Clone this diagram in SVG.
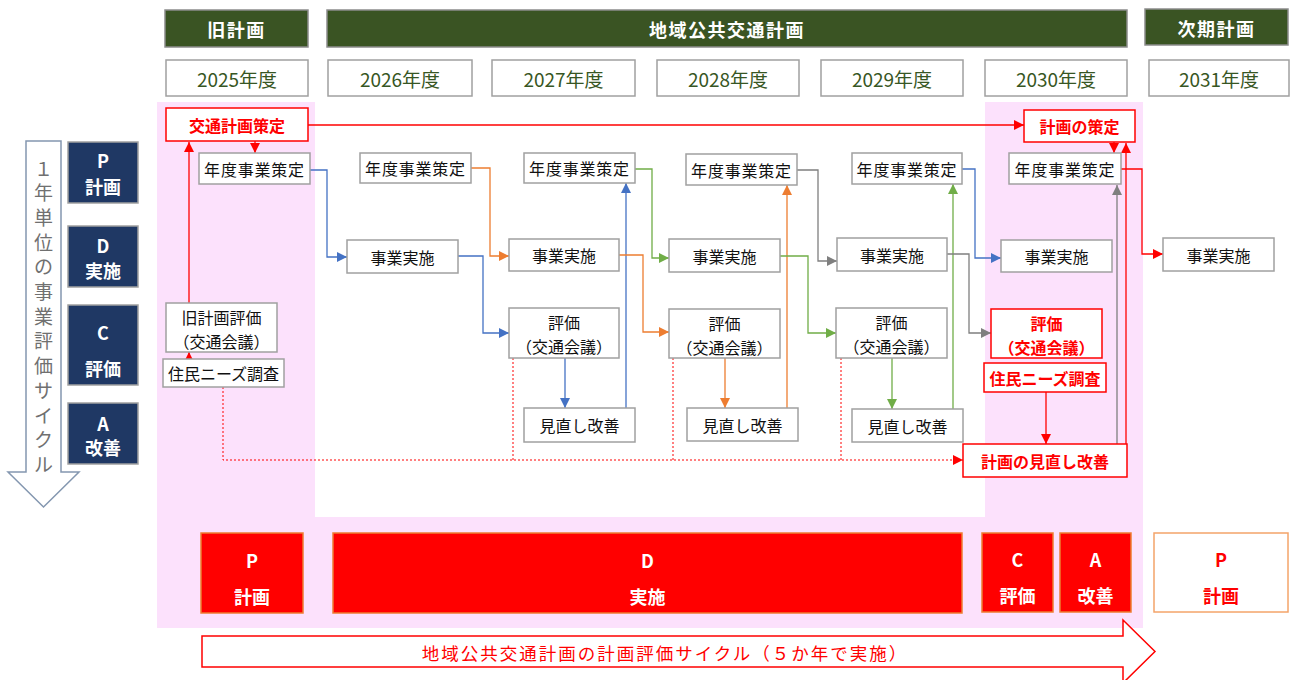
<svg xmlns="http://www.w3.org/2000/svg" width="1292" height="680" viewBox="0 0 1292 680">
<style>
text{font-family:"Noto Sans CJK JP","Noto Sans",sans-serif;text-anchor:middle;dominant-baseline:central}
.hdr rect{fill:#3A5423;stroke:#8C8C8C;stroke-width:1.5}
.hdr text{fill:#fff;font-weight:bold;font-size:18px;letter-spacing:1.5px}
.yr rect{fill:#fff;stroke:#A0A0A0;stroke-width:1.5}
.yr text{fill:#375623;font-size:19px}
.pd rect{fill:#1F3864;stroke:#A0A0A0;stroke-width:1.5}
.pd text{fill:#fff;font-weight:bold;font-size:18px}
.n rect{fill:#fff;stroke:#A0A0A0;stroke-width:1.5}
.n text{fill:#111;font-size:16px}
.r rect{fill:#fff;stroke:#FF0000;stroke-width:1.5}
.r text{fill:#FF0000;font-weight:bold;font-size:16px}
.s{font-size:14px;letter-spacing:0.8px}
.sm{font-size:11px}
.t13{font-size:13px}
.bt rect{fill:#FF0000;stroke:#ED7D31;stroke-width:1.5}
.bt text{fill:#fff;font-weight:bold;font-size:18px}
.c{fill:none;stroke-width:1.3}
.blue{stroke:#4472C4}.orange{stroke:#ED7D31}.green{stroke:#70AD47}.gray{stroke:#7F7F7F}.red{stroke:#FF0000}
.dot{stroke:#FF0000;stroke-width:1;stroke-dasharray:2 2;fill:none}
</style>
<defs>
<marker id="ab" markerUnits="userSpaceOnUse" markerWidth="10" markerHeight="10" refX="10" refY="5" orient="auto"><path d="M0,0L10,5L0,10z" fill="#4472C4"/></marker>
<marker id="ao" markerUnits="userSpaceOnUse" markerWidth="10" markerHeight="10" refX="10" refY="5" orient="auto"><path d="M0,0L10,5L0,10z" fill="#ED7D31"/></marker>
<marker id="ag" markerUnits="userSpaceOnUse" markerWidth="10" markerHeight="10" refX="10" refY="5" orient="auto"><path d="M0,0L10,5L0,10z" fill="#70AD47"/></marker>
<marker id="ay" markerUnits="userSpaceOnUse" markerWidth="10" markerHeight="10" refX="10" refY="5" orient="auto"><path d="M0,0L10,5L0,10z" fill="#7F7F7F"/></marker>
<marker id="ar" markerUnits="userSpaceOnUse" markerWidth="10" markerHeight="10" refX="10" refY="5" orient="auto"><path d="M0,0L10,5L0,10z" fill="#FF0000"/></marker>
</defs>
<rect width="1292" height="680" fill="#fff"/>
<g id="background">
<rect x="157" y="102" width="986" height="526" fill="#FCE1FC"/>
<rect x="315" y="102" width="670" height="415" fill="#fff"/>
</g>
<g id="hdr-old" class="hdr"><rect x="165" y="10" width="143" height="37"/><text x="236.5" y="28.5">旧計画</text></g>
<g id="hdr-main" class="hdr"><rect x="327" y="10" width="800" height="37"/><text x="727" y="28.5">地域公共交通計画</text></g>
<g id="hdr-next" class="hdr"><rect x="1145" y="9" width="143" height="36"/><text x="1216.5" y="27.5">次期計画</text></g>
<g id="y2025" class="yr"><rect x="166" y="60" width="142" height="36"/><text x="237" y="78">2025年度</text></g>
<g id="y2026" class="yr"><rect x="328" y="60" width="144" height="36"/><text x="400" y="78">2026年度</text></g>
<g id="y2027" class="yr"><rect x="492" y="60" width="143" height="36"/><text x="563.5" y="78">2027年度</text></g>
<g id="y2028" class="yr"><rect x="657" y="60" width="142" height="36"/><text x="728" y="78">2028年度</text></g>
<g id="y2029" class="yr"><rect x="821" y="60" width="142" height="36"/><text x="892" y="78">2029年度</text></g>
<g id="y2030" class="yr"><rect x="985" y="60" width="142" height="36"/><text x="1056" y="78">2030年度</text></g>
<g id="y2031" class="yr"><rect x="1149" y="60" width="140" height="36"/><text x="1219" y="78">2031年度</text></g>
<g id="cycle-arrow">
<polygon points="26,141 61,141 61,472 79,472 43.5,507 8,472 26,472" fill="#fff" stroke="#8497B0" stroke-width="1.5"/>
<text fill="#707070" font-size="19" x="43.5 43.5 43.5 43.5 43.5 43.5 43.5 43.5 43.5 43.5 43.5 43.5 43.5" y="167 191.7 216.4 241.1 265.8 290.5 315.2 339.9 364.6 389.3 414 438.7 463.4">１年単位の事業評価サイクル</text>
</g>
<g id="pdca-p" class="pd"><rect x="68" y="142" width="70" height="61"/><text x="103" y="160">P</text><text x="103" y="186">計画</text></g>
<g id="pdca-d" class="pd"><rect x="68" y="226" width="70" height="61"/><text x="103" y="245">D</text><text x="103" y="270">実施</text></g>
<g id="pdca-c" class="pd"><rect x="68" y="305" width="70" height="80"/><text x="103" y="332">C</text><text x="103" y="368">評価</text></g>
<g id="pdca-a" class="pd"><rect x="68" y="403" width="70" height="61"/><text x="103" y="423">A</text><text x="103" y="447">改善</text></g>
<g id="connectors">
<path class="c blue" d="M310,170H327V257H347" marker-end="url(#ab)"/>
<path class="c blue" d="M458,256H483V333H509" marker-end="url(#ab)"/>
<path class="c blue" d="M565,358V408" marker-end="url(#ab)"/>
<path class="c blue" d="M626,408V183" marker-end="url(#ab)"/>
<path class="c blue" d="M962,169H975V258H1001" marker-end="url(#ab)"/>
<path class="c orange" d="M471,168H490V256H509" marker-end="url(#ao)"/>
<path class="c orange" d="M619,255H643V332H669" marker-end="url(#ao)"/>
<path class="c orange" d="M725,358V408" marker-end="url(#ao)"/>
<path class="c orange" d="M787,408V185" marker-end="url(#ao)"/>
<path class="c green" d="M635,169H652V258H669" marker-end="url(#ag)"/>
<path class="c green" d="M780,256H808V333H836" marker-end="url(#ag)"/>
<path class="c green" d="M892,358V409" marker-end="url(#ag)"/>
<path class="c green" d="M953,409V184" marker-end="url(#ag)"/>
<path class="c gray" d="M797,170H818V261H837" marker-end="url(#ay)"/>
<path class="c gray" d="M947,254H969V333H991" marker-end="url(#ay)"/>
<path class="c gray" d="M1117,444V185" marker-end="url(#ay)"/>
<path class="c red" d="M308,125H1024" marker-end="url(#ar)"/>
<path class="c red" d="M255,141V153" marker-end="url(#ar)"/>
<path class="c red" d="M189,303V142" marker-end="url(#ar)"/>
<path class="c red" d="M189,359V352" marker-end="url(#ar)"/>
<path class="c red" d="M1114,142V153" marker-end="url(#ar)"/>
<path class="c red" d="M1126,444V143" marker-end="url(#ar)"/>
<path class="c red" d="M1121,169H1142V254H1163" marker-end="url(#ar)"/>
<path class="c red" d="M1046,392V444" marker-end="url(#ar)"/>
<path class="dot" d="M223,387V460H963" marker-end="url(#ar)"/>
<path class="dot" d="M513,358V460"/>
<path class="dot" d="M673,358V460"/>
<path class="dot" d="M841,358V460"/>
</g>
<g id="plan-old" class="r"><rect x="166" y="108" width="142" height="33"/><text x="237" y="125">交通計画策定</text></g>
<g id="yp2025" class="n"><rect x="199" y="153" width="111" height="31"/><text class="s" x="254.5" y="169">年度事業策定</text></g>
<g id="eval-old" class="n"><rect x="166" y="303" width="111" height="49"/><text x="221.5" y="317">旧計画評価</text><text class="sm" x="221.5" y="341">（交通会議）</text></g>
<g id="survey-old" class="n"><rect x="163" y="359" width="121" height="28"/><text class="t13" x="223.5" y="373">住民ニーズ調査</text></g>
<g id="yp2026" class="n"><rect x="360" y="153" width="111" height="30"/><text class="s" x="415.5" y="168">年度事業策定</text></g>
<g id="do2026" class="n"><rect x="347" y="240" width="111" height="33"/><text x="402.5" y="257">事業実施</text></g>
<g id="yp2027" class="n"><rect x="524" y="153" width="111" height="30"/><text class="s" x="579.5" y="168">年度事業策定</text></g>
<g id="do2027" class="n"><rect x="509" y="239" width="110" height="32"/><text x="564" y="255">事業実施</text></g>
<g id="ev2027" class="n"><rect x="509" y="308" width="110" height="50"/><text x="564" y="322">評価</text><text class="sm" x="564" y="346">（交通会議）</text></g>
<g id="im2027" class="n"><rect x="524" y="408" width="111" height="34"/><text x="579.5" y="425">見直し改善</text></g>
<g id="yp2028" class="n"><rect x="686" y="154" width="111" height="31"/><text class="s" x="741.5" y="170">年度事業策定</text></g>
<g id="do2028" class="n"><rect x="669" y="239" width="111" height="33"/><text x="724.5" y="256">事業実施</text></g>
<g id="ev2028" class="n"><rect x="669" y="309" width="111" height="49"/><text x="724.5" y="323">評価</text><text class="sm" x="724.5" y="347">（交通会議）</text></g>
<g id="im2028" class="n"><rect x="687" y="408" width="111" height="33"/><text x="742.5" y="425">見直し改善</text></g>
<g id="yp2029" class="n"><rect x="852" y="153" width="110" height="31"/><text class="s" x="907" y="169">年度事業策定</text></g>
<g id="do2029" class="n"><rect x="837" y="238" width="110" height="33"/><text x="892" y="255">事業実施</text></g>
<g id="ev2029" class="n"><rect x="836" y="308" width="111" height="50"/><text x="891.5" y="322">評価</text><text class="sm" x="891.5" y="346">（交通会議）</text></g>
<g id="im2029" class="n"><rect x="852" y="409" width="111" height="33"/><text x="907.5" y="426">見直し改善</text></g>
<g id="plan-new" class="r"><rect x="1024" y="110" width="111" height="32"/><text x="1079.5" y="126">計画の策定</text></g>
<g id="yp2030" class="n"><rect x="1009" y="153" width="112" height="31"/><text class="s" x="1065" y="169">年度事業策定</text></g>
<g id="do2030" class="n"><rect x="1001" y="240" width="111" height="32"/><text x="1056.5" y="256">事業実施</text></g>
<g id="ev2030" class="r"><rect x="991" y="309" width="111" height="49"/><text x="1046.5" y="323">評価</text><text class="sm" x="1046.5" y="347">（交通会議）</text></g>
<g id="survey-new" class="r"><rect x="984" y="363" width="122" height="29"/><text class="t13" x="1045" y="377.5">住民ニーズ調査</text></g>
<g id="review-new" class="r"><rect x="963" y="444" width="164" height="33"/><text x="1045" y="460.5">計画の見直し改善</text></g>
<g id="do2031" class="n"><rect x="1163" y="238" width="111" height="33"/><text x="1218.5" y="254.5">事業実施</text></g>
<g id="b-p" class="bt"><rect x="201" y="533" width="102" height="80"/><text x="252" y="560">P</text><text x="252" y="596">計画</text></g>
<g id="b-d" class="bt"><rect x="333" y="533" width="629" height="80"/><text x="647.5" y="560">D</text><text x="647.5" y="596">実施</text></g>
<g id="b-c" class="bt"><rect x="982" y="533" width="71" height="79"/><text x="1017.5" y="559">C</text><text x="1017.5" y="595">評価</text></g>
<g id="b-a" class="bt"><rect x="1060" y="533" width="71" height="79"/><text x="1095.5" y="559">A</text><text x="1095.5" y="595">改善</text></g>
<g id="b-next"><rect x="1154" y="533" width="134" height="79" fill="#fff" stroke="#F4A46A" stroke-width="1.5"/><text x="1221" y="559" fill="#FF0000" font-weight="bold" font-size="18">P</text><text x="1221" y="595" fill="#FF0000" font-weight="bold" font-size="18">計画</text></g>
<g id="cycle-5y">
<polygon points="202,636 1123,636 1123,620 1155,651.5 1123,683 1123,667 202,667" fill="#fff" stroke="#FF0000" stroke-width="1.5"/>
<text x="665" y="652" fill="#FF0000" font-size="17.5" letter-spacing="2">地域公共交通計画の計画評価サイクル（５か年で実施）</text>
</g>
</svg>
